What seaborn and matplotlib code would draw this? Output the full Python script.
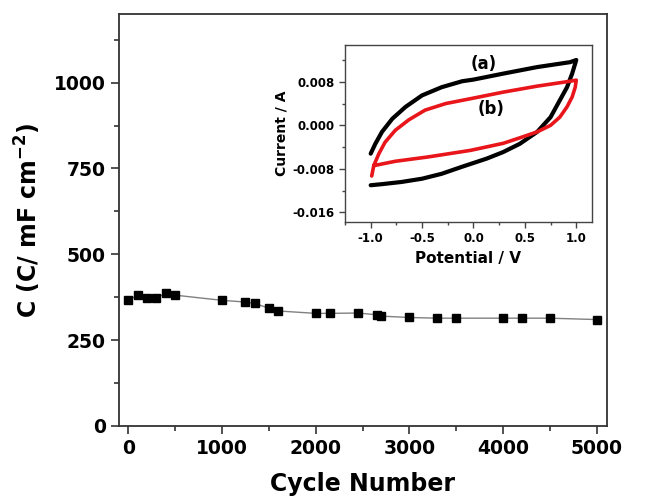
import numpy as np
import pandas as pd
import matplotlib
matplotlib.use("Agg")
import matplotlib.pyplot as plt
from matplotlib.ticker import MultipleLocator
import seaborn as sns

# Main data: capacitance vs cycle number
cycles = [0, 100, 200, 300, 400, 500, 1000, 1250, 1350, 1500, 1600, 2000, 2150,
          2450, 2650, 2700, 3000, 3300, 3500, 4000, 4200, 4500, 5000]
capacitance = [366, 381, 374, 374, 386, 381, 366, 361, 357, 343, 335, 328, 328,
               329, 324, 320, 316, 314, 314, 314, 314, 314, 310]

# Inset CV curve (a) - black
cv_a_potential = [-1.0, -0.955, -0.89, -0.79, -0.66, -0.50, -0.31, -0.11, 0.0, 0.29, 0.62, 0.94, 1.0,
                  0.96, 0.91, 0.84, 0.75, 0.62, 0.45, 0.29, 0.13, -0.03, -0.11, -0.31, -0.50,
                  -0.70, -0.89, -1.0]
cv_a_current = [-0.0052, -0.0034, -0.0012, 0.0012, 0.0034, 0.0055, 0.0070, 0.0081, 0.0084, 0.0095, 0.0107, 0.0116, 0.0120,
                0.0095, 0.0070, 0.0046, 0.0015, -0.0012, -0.0034, -0.0049, -0.0061, -0.0071, -0.0076, -0.0089, -0.0098,
                -0.0104, -0.0108, -0.0110]

# Inset CV curve (b) - red
cv_b_potential = [-0.99, -0.97, -0.92, -0.86, -0.76, -0.63, -0.47, -0.27, 0.0, 0.29, 0.62, 0.94, 1.0,
                  0.99, 0.96, 0.91, 0.84, 0.75, 0.62, 0.45, 0.29, -0.03, -0.44, -0.76, -0.97]
cv_b_current = [-0.0093, -0.0074, -0.0052, -0.0031, -0.0009, 0.0010, 0.0028, 0.0040, 0.0050, 0.0061, 0.0072, 0.0081, 0.0083,
                0.0070, 0.0052, 0.0034, 0.0015, 0.0000, -0.0012, -0.0023, -0.0033, -0.0046, -0.0058, -0.0066, -0.0074]

sns.set_theme(style="ticks")
plt.rcParams['font.family'] = ['DejaVu Sans']
plt.rcParams['font.weight'] = 'bold'
plt.rcParams['text.color'] = 'black'
plt.rcParams['axes.labelcolor'] = 'black'
plt.rcParams['xtick.color'] = 'black'
plt.rcParams['ytick.color'] = 'black'
plt.rcParams['mathtext.default'] = 'bf'

fig = plt.figure(figsize=(6.47, 5.03), dpi=100)
ax = fig.add_axes([0.1839, 0.1531, 0.7543, 0.8191])

main_df = pd.DataFrame({"cycle": cycles, "C": capacitance})
sns.lineplot(data=main_df, x="cycle", y="C", ax=ax, color="#808080", linewidth=1.0,
             estimator=None, sort=False)
ax.plot(main_df["cycle"], main_df["C"], linestyle="none", marker="s",
        markersize=5.5, color="black")

ax.set_xlim(-100, 5110)
ax.set_ylim(0, 1200)
ax.set_xticks([0, 1000, 2000, 3000, 4000, 5000])
ax.set_yticks([0, 250, 500, 750, 1000])
ax.xaxis.set_minor_locator(MultipleLocator(500))
ax.yaxis.set_minor_locator(MultipleLocator(125))
ax.tick_params(axis="both", which="major", direction="out", length=6, width=1.2,
               labelsize=13.5, color="#333333", labelcolor="black")
ax.tick_params(axis="both", which="minor", direction="out", length=3.5, width=1.2,
               color="#333333")
for lbl in ax.get_xticklabels() + ax.get_yticklabels():
    lbl.set_fontweight("bold")
for s in ax.spines.values():
    s.set_visible(True)
    s.set_linewidth(1.3)
    s.set_color("#333333")
ax.set_xlabel("Cycle Number", fontsize=17, fontweight="bold", labelpad=10, color="black")
ax.set_ylabel(r"C (C/ mF cm$^{-2}$)", fontsize=17, fontweight="bold", labelpad=8, color="black")

# Inset
axin = fig.add_axes([0.5332, 0.5592, 0.3813, 0.3513])
df_a = pd.DataFrame({"V": cv_a_potential, "I": cv_a_current})
df_b = pd.DataFrame({"V": cv_b_potential, "I": cv_b_current})
sns.lineplot(data=df_a, x="V", y="I", ax=axin, color="black", linewidth=3.0,
             estimator=None, sort=False)
sns.lineplot(data=df_b, x="V", y="I", ax=axin, color="#e8161b", linewidth=2.6,
             estimator=None, sort=False)
for ln in axin.get_lines():
    ln.set_solid_joinstyle("round")
    ln.set_solid_capstyle("round")
axin.set_xlim(-1.25, 1.15)
axin.set_ylim(-0.0177, 0.01475)
axin.set_xticks([-1.0, -0.5, 0.0, 0.5, 1.0])
axin.set_xticklabels(["-1.0", "-0.5", "0.0", "0.5", "1.0"])
axin.set_yticks([-0.016, -0.008, 0.0, 0.008])
axin.set_yticklabels(["-0.016", "-0.008", "0.000", "0.008"])
axin.xaxis.set_minor_locator(MultipleLocator(0.25))
axin.yaxis.set_minor_locator(MultipleLocator(0.004))
axin.tick_params(axis="both", which="major", direction="out", length=4, width=1.0,
                 labelsize=8.5, color="#444444", labelcolor="black")
axin.tick_params(axis="both", which="minor", direction="out", length=2, width=1.0,
                 color="#444444")
for lbl in axin.get_xticklabels() + axin.get_yticklabels():
    lbl.set_fontweight("bold")
for s in axin.spines.values():
    s.set_visible(True)
    s.set_linewidth(1.0)
    s.set_color("#444444")
axin.set_xlabel("Potential / V", fontsize=11, fontweight="bold", labelpad=4, color="black")
axin.set_ylabel("Current / A", fontsize=10, fontweight="bold", labelpad=3, color="black")
axin.text(0.10, 0.0112, "(a)", fontsize=12, fontweight="bold", ha="center", va="center")
axin.text(0.17, 0.0030, "(b)", fontsize=12, fontweight="bold", ha="center", va="center")

fig.savefig("out.png", dpi=100)
